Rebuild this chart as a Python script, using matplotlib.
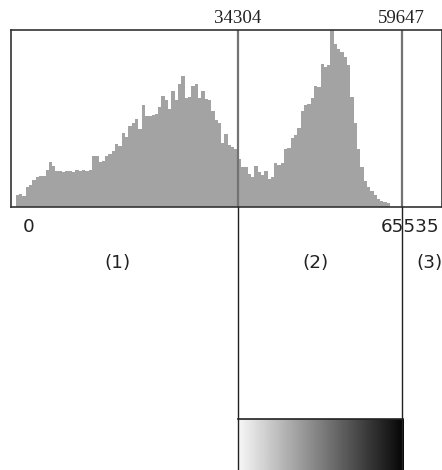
import numpy as np
import matplotlib
matplotlib.use("Agg")
import matplotlib.pyplot as plt

# histogram of 16-bit values, 128 bins of width 512 (bar heights)
bin_width = 512
counts = [11.2, 12.8, 10.8, 19.5, 21.5, 26.7, 30, 30.3, 30.3, 36.7,
          44.2, 40.3, 35.8, 35.3, 34.5, 35.5, 35.3, 35, 37, 35.5,
          37, 36, 36.8, 50.5, 51, 44.5, 46, 51, 52.5, 56,
          63, 61, 73.5, 70, 81, 84, 87.5, 77.5, 101.5, 91,
          91, 91.5, 93, 100, 110.5, 106.5, 98, 116, 106.5, 123,
          131, 109, 110, 121, 123, 108.5, 116, 108, 107, 96,
          87, 83.5, 64, 73, 62, 59.5, 57.5, 48, 40, 40,
          33, 30, 41, 35, 31.7, 36, 27.7, 30, 43.3, 41.7,
          43.3, 57.7, 58.3, 69, 71.7, 79, 95.7, 101.7, 102.3, 109,
          121, 120, 142.3, 140, 141.7, 180, 163, 158, 155, 150,
          142, 110, 84, 58, 40, 26, 20, 16, 12, 8,
          6, 5, 4]
max_value = 65535
thresholds = [34304, 59647]
region_labels = ["(1)", "(2)", "(3)"]
region_label_x = [15800, 46400, 63900]

edges = np.arange(len(counts)) * bin_width

fig = plt.figure(figsize=(4.42, 4.70), dpi=100)
W, H = 442, 470

# histogram box (pixel layout of the original)
ax = fig.add_axes([11 / W, (H - 206.7) / H, 430.7 / W, 176.7 / H])
ax.bar(edges, counts, width=bin_width, align="edge", color="#a3a3a3", linewidth=0)
ax.set_xlim(-726, 65828)
ax.set_ylim(0, 176.5)
ax.set_xticks([])
ax.set_yticks([])
for s in ax.spines.values():
    s.set_color("#333333")
    s.set_linewidth(1.2)
for t in thresholds:
    ax.axvline(t, color="#737373", lw=1.6)
    ax.annotate(str(t), xy=(t, 1), xycoords=("data", "axes fraction"),
                xytext=(0, 8.6), textcoords="offset points",
                ha="center", va="center", fontsize=13.6,
                family=["Liberation Serif", "DejaVu Serif"], color="#222222")

# lower part: axis labels, region labels, threshold lines and gray ramp
ax2 = fig.add_axes([11 / W, 0, 430.7 / W, (H - 206.7) / H], sharex=ax)
ax2.set_ylim(0, H - 206.7)
ax2.axis("off")

ax2.text(1150, H - 226.7, "0", ha="left", va="center", fontsize=13.2,
         color="#222222")
ax2.text(max_value, H - 226.7, str(max_value), ha="right", va="center",
         fontsize=13.2, color="#222222")
for lab, x in zip(region_labels, region_label_x):
    ax2.text(x, H - 262.5, lab, ha="center", va="center", fontsize=13.2,
             color="#222222")

ramp_h = H - 419
ramp = np.linspace(0.97, 0.02, 256).reshape(1, -1)
ax2.imshow(ramp, cmap="gray", vmin=0, vmax=1, aspect="auto",
           extent=[thresholds[0], thresholds[1] + 200, 0, ramp_h],
           interpolation="bilinear")
ax2.plot([thresholds[0], thresholds[1] + 200], [ramp_h, ramp_h],
         color="#222222", lw=1.2)
for t in thresholds:
    ax2.plot([t, t], [0, H - 206.7], color="#222222", lw=1.0)
ax2.set_xlim(-726, 65828)

fig.savefig("out.png", dpi=100)
